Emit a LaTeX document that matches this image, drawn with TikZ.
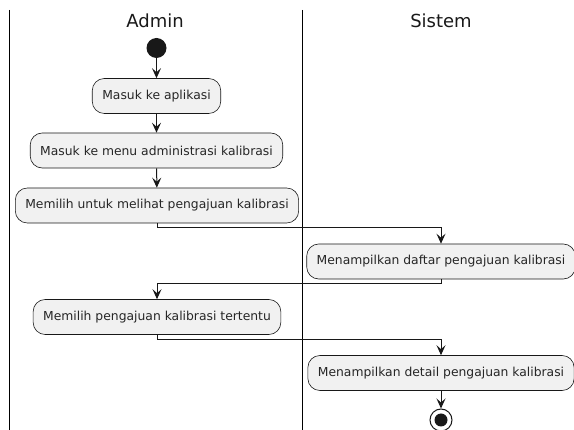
\documentclass[tikz,border=0pt]{standalone}
\usepackage{fontspec}
\setmainfont{DejaVu Sans}
\usetikzlibrary{arrows.meta}
\definecolor{boxfill}{HTML}{F1F1F1}
\definecolor{ink}{HTML}{181818}
\begin{document}
\begin{tikzpicture}[x=1pt,y=-1pt,
  act/.style={draw=ink, line width=0.6pt, fill=boxfill, rounded corners=12pt,
    minimum height=35pt, inner xsep=10pt, font=\fontsize{12.35}{14}\selectfont, text=black!85},
  flow/.style={draw=ink, line width=1pt, -{Stealth[length=10pt,width=9pt,inset=4pt]}},
  lane/.style={draw=black, line width=1.3pt},
  head/.style={font=\fontsize{18}{20}\selectfont, text=black!90}]
\useasboundingbox (0,0) rectangle (574,430);
% swimlanes
\coordinate (l1t) at (9.5,10);
\coordinate (l1b) at (9.5,430);
\coordinate (l2t) at (302.5,10);
\coordinate (l2b) at (302.5,430);
\draw[lane] (l1t) -- (l1b);
\draw[lane] (l2t) -- (l2b);
\node[head] (hadmin) at (155,21) {Admin};
\node[head] (hsistem) at (441,21) {Sistem};
% start
\node[circle, fill=ink, minimum size=20pt, inner sep=0pt] (start) at (156.5,48) {};
% activities
\node[act] (b1) at (156.5,96) {Masuk ke aplikasi};
\node[act] (b2) at (156.5,150.5) {Masuk ke menu administrasi kalibrasi};
\node[act] (b3) at (157,205.5) {Memilih untuk melihat pengajuan kalibrasi};
\node[act] (b4) at (441,261.5) {Menampilkan daftar pengajuan kalibrasi};
\node[act] (b5) at (157,317) {Memilih pengajuan kalibrasi tertentu};
\node[act] (b6) at (441,373) {Menampilkan detail pengajuan kalibrasi};
% end
\node[circle, draw=ink, line width=1pt, fill=white, minimum size=22pt, inner sep=0pt] (stop) at (441,420) {};
\node[circle, fill=ink, minimum size=13pt, inner sep=0pt] (stopin) at (stop.center) {};
% connectors
\draw[flow] (start) -- (b1);
\draw[flow] (b1) -- (b2);
\draw[flow] (b2) -- (b3);
\draw[flow] (b3.south) -- ++(0,4.5) -| (b4.north);
\draw[flow] (b4.south) -- ++(0,4.5) -| (b5.north);
\draw[flow] (b5.south) -- ++(0,4.5) -| (b6.north);
\draw[flow] (b6) -- (stop);
\end{tikzpicture}
\end{document}
